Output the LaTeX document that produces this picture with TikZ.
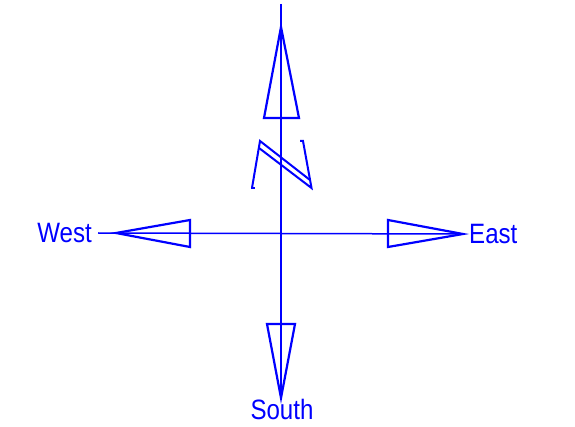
\documentclass[tikz,border=0pt]{standalone}
\usepackage{fontspec}
\setmainfont[FakeStretch=0.86]{Liberation Sans}
\usepackage{tikz}

\begin{document}
\begin{tikzpicture}[x=1pt,y=-1pt,every node/.style={font=\fontsize{28}{32}\selectfont,text=blue,inner sep=0pt}]
\useasboundingbox (0,0) rectangle (575,427);
\coordinate (top) at (281,4);
\coordinate (ntip) at (281,27);
\coordinate (stip) at (281,398);
\coordinate (wtip) at (116,233);
\coordinate (etip) at (463,234);
\node[anchor=east] (west) at (92,233) {West};
\node[anchor=west] (east) at (469,234) {East};
\node[anchor=north] (south) at (282,399) {South};
\draw[blue,line width=1.5pt] (top) -- (stip);
\draw[blue,line width=1.5pt] (west.east) ++(6,0) -- (etip);
\draw[blue,line width=2.2pt] (ntip) -- (264,118) -- (299,118) -- cycle;
\draw[blue,line width=2.2pt] (stip) -- (267,324) -- (295,324) -- cycle;
\draw[blue,line width=2.2pt] (wtip) -- (190,220) -- (190,247) -- cycle;
\draw[blue,line width=2.2pt] (etip) -- (388,220) -- (388,247) -- cycle;
% letter N
\draw[blue,line width=2pt] (251,188) -- (254.5,188);
\draw[blue,line width=2pt] (252,188) -- (260,141) -- (310,180);
\draw[blue,line width=2pt] (259,148) -- (311.5,188) -- (303,141) -- (300,141);
\end{tikzpicture}
\end{document}
